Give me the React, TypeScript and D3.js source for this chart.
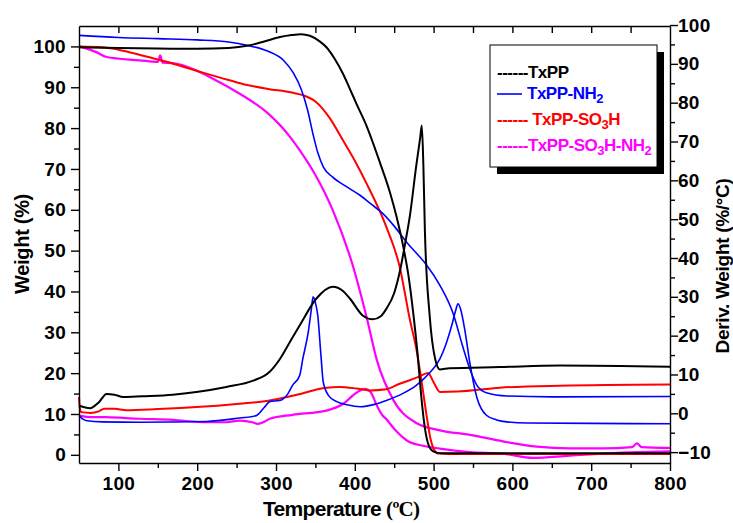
import * as d3 from "d3";
import React, { useEffect, useRef } from "react";

type Pt = [number, number];

// tick values
const tempTicks = [100, 200, 300, 400, 500, 600, 700, 800];
const tempMinor = [150, 250, 350, 450, 550, 650, 750];
const topTicks = [100, 150, 200, 250, 300, 350, 400, 450, 500, 550, 600, 650, 700, 750];
const weightTicks = [0, 10, 20, 30, 40, 50, 60, 70, 80, 90, 100];
const weightMinor = [5, 15, 25, 35, 45, 55, 65, 75, 85, 95];
const derivTicks = [-10, 0, 10, 20, 30, 40, 50, 60, 70, 80, 90, 100];
const derivMinor = [-5, 5, 15, 25, 35, 45, 55, 65, 75, 85, 95];

// TG curves: [temperature, weight %]
const txppWeight: Pt[] = [
  [50, 99.8], [100, 99.6], [150, 99.5], [200, 99.4], [240, 99.6], [265, 100.2],
  [285, 101.2], [305, 102.3], [320, 102.8], [332, 103], [343, 102.6], [355, 101.3],
  [364, 99.8], [375, 96.8], [385, 93.3], [394, 89.5], [402, 86], [415, 80.5],
  [432, 71.5], [445, 64], [453, 58.3], [462, 50.5], [468, 44], [474, 35],
  [480, 24], [484, 15], [489, 6.5], [494, 2.2], [500, 0.8], [510, 0.4],
  [600, 0.4], [700, 0.4], [800, 0.4],
];
const nh2Weight: Pt[] = [
  [50, 102.7], [100, 102.2], [150, 101.9], [200, 101.6], [240, 101.1], [265, 100.2],
  [290, 98.8], [310, 96.5], [322, 93.5], [332, 89.5], [340, 84.5], [347, 78.5],
  [353, 74], [360, 70.5], [372, 68], [390, 65.6], [407, 63.5], [420, 61.5],
  [436, 59], [450, 56], [466, 52], [480, 49], [491, 46.5], [508, 41.5],
  [525, 34.5], [537, 26.5], [546, 21], [555, 17], [567, 15.2], [593, 14.4],
  [650, 14.2], [800, 14.3],
];
const so3hWeight: Pt[] = [
  [50, 100], [80, 99.8], [100, 99.2], [130, 97.8], [160, 96.3], [200, 94],
  [230, 92.3], [260, 90.7], [290, 89.6], [320, 88.7], [335, 88], [350, 86.5],
  [368, 82.5], [385, 77], [400, 72], [415, 66.4], [440, 55.8], [457, 46],
  [470, 33], [478, 26], [484, 19], [490, 11], [496, 4], [500, 1.5],
  [506, 0.3], [520, 0.2], [800, 0.2],
];
const so3hNh2Weight: Pt[] = [
  [50, 100], [72, 98.6], [85, 97.4], [127, 96.6], [150, 96.2], [153, 97.8],
  [156, 96], [169, 95.9], [199, 94.1], [220, 92.1], [254, 88.4], [288, 83.9],
  [318, 77.8], [330, 74.6], [350, 68.5], [372, 59.9], [398, 46], [415, 33.7],
  [428, 23.2], [449, 13.4], [478, 7.8], [508, 6], [546, 4.9], [588, 3.3],
  [631, 2], [673, 1.6], [715, 1.6], [752, 1.9], [758, 2.8], [764, 1.9], [800, 1.7],
];

// DTG curves: [temperature, deriv. weight %/°C]
const txppDeriv: Pt[] = [
  [50, 2], [64, 1.3], [75, 2.8], [85, 5], [95, 4.8], [106, 4.2], [130, 4.4],
  [169, 4.8], [199, 5.5], [237, 6.8], [271, 8.4], [292, 10.7], [305, 14],
  [318, 18.5], [330, 22.6], [351, 29.5], [372, 32.6], [385, 31.5], [394, 29.5],
  [410, 25.2], [423, 24.2], [433, 25], [440, 26.9], [450, 31], [457, 36.4],
  [465, 45], [470, 51], [478, 63.8], [483, 71], [485, 74.1], [487, 64],
  [489, 46.7], [495, 25.2], [502, 14], [508, 11.3], [520, 11.6], [584, 11.9],
  [660, 12.3], [800, 12],
];
const nh2Deriv: Pt[] = [
  [50, -0.6], [55, -1.5], [60, -1.9], [80, -2.2], [127, -2.3], [212, -2.1],
  [254, -1.2], [275, -0.6], [285, 1.5], [292, 3], [305, 3.3], [315, 5],
  [321, 7.2], [330, 9.7], [334, 14], [341, 21], [345, 27], [347, 30],
  [350, 28.5], [353, 25.2], [357, 15], [360, 8], [367, 4.5], [377, 3],
  [390, 2.2], [407, 1.7], [425, 2.3], [440, 3.3], [460, 5], [478, 7.2],
  [493, 10], [508, 14], [516, 18], [523, 22.6], [528, 26.5], [531, 28.2],
  [534, 27], [540, 21], [546, 13], [555, 4], [567, -0.5], [580, -1.7],
  [593, -2.2], [620, -2.5], [700, -2.6], [800, -2.7],
];
const so3hDeriv: Pt[] = [
  [50, 4.2], [51, 1.5], [53, 0.3], [65, 0.1], [75, 0.5], [82, 1.2], [95, 1.2],
  [110, 0.8], [150, 1.1], [199, 1.6], [250, 2.4], [292, 3.3], [321, 4.5],
  [364, 6.6], [380, 6.8], [402, 6.4], [419, 5.9], [440, 6.2], [457, 7.6],
  [480, 9.3], [493, 10.4], [500, 8], [508, 5.5], [530, 5.6], [584, 6.6],
  [660, 7.1], [800, 7.4],
];
const so3hNh2Deriv: Pt[] = [
  [50, -0.6], [60, -0.9], [85, -1], [127, -1.4], [169, -1.7], [212, -2.3],
  [237, -2.3], [254, -1.9], [270, -2.3], [277, -2.7], [285, -2.2], [292, -1.4],
  [321, -0.4], [364, 0.7], [385, 2.4], [402, 5.3], [413, 6.3], [420, 5.5],
  [428, 2], [435, -0.5], [440, -1.5], [450, -4], [466, -7], [485, -8.3],
  [508, -9.1], [546, -10], [588, -10.4], [626, -11.5], [673, -10.9],
  [715, -10.4], [758, -10], [800, -9.8],
];

const seriesNames = ["TxPP", "TxPP-NH2", "TxPP-SO3H", "TxPP-SO3H-NH2"];
const seriesColors = ["#000000", "#0000ff", "#ff0000", "#ff00ff"];

const FONT = "'Liberation Sans', Arial, sans-serif";

const App: React.FC = () => {
  const svgRef = useRef<SVGSVGElement | null>(null);

  useEffect(() => {
    const svg = d3.select(svgRef.current);
    svg.selectAll("*").remove();

    const x = d3.scaleLinear().domain([50, 800]).range([79, 670]);
    const yW = d3.scaleLinear().domain([-2, 105]).range([463, 26]);
    const yD = d3.scaleLinear().domain([-12.8, 99.75]).range([463, 26]);

    // curves
    const lineW = d3
      .line<Pt>()
      .x((d) => x(d[0]))
      .y((d) => yW(d[1]))
      .curve(d3.curveMonotoneX);
    const lineD = d3
      .line<Pt>()
      .x((d) => x(d[0]))
      .y((d) => yD(d[1]))
      .curve(d3.curveMonotoneX);

    const curves: { data: Pt[]; deriv: boolean; color: string; w: number }[] = [
      { data: so3hNh2Deriv, deriv: true, color: seriesColors[3], w: 2.2 },
      { data: so3hNh2Weight, deriv: false, color: seriesColors[3], w: 2.2 },
      { data: so3hDeriv, deriv: true, color: seriesColors[2], w: 2 },
      { data: so3hWeight, deriv: false, color: seriesColors[2], w: 2 },
      { data: nh2Deriv, deriv: true, color: seriesColors[1], w: 1.6 },
      { data: nh2Weight, deriv: false, color: seriesColors[1], w: 1.6 },
      { data: txppDeriv, deriv: true, color: seriesColors[0], w: 2 },
      { data: txppWeight, deriv: false, color: seriesColors[0], w: 2 },
    ];

    svg
      .append("g")
      .selectAll("path")
      .data(curves)
      .join("path")
      .attr("d", (c) => (c.deriv ? lineD(c.data) : lineW(c.data)))
      .attr("fill", "none")
      .attr("stroke", (c) => c.color)
      .attr("stroke-width", (c) => c.w)
      .attr("stroke-linejoin", "round");

    // axes
    const styleAxis = (g: d3.Selection<SVGGElement, unknown, null, undefined>) => {
      g.attr("font-family", FONT)
        .attr("font-size", 19)
        .attr("font-weight", "bold")
        .attr("letter-spacing", "0.3");
      g.selectAll("path").attr("stroke", "#000").attr("stroke-width", 1.4);
      g.selectAll("line").attr("stroke", "#000").attr("stroke-width", 1.4);
      g.selectAll("text").attr("fill", "#000");
    };

    svg
      .append("g")
      .attr("transform", "translate(79,0)")
      .call(d3.axisLeft(yW).tickValues(weightTicks).tickSize(8).tickSizeOuter(0).tickPadding(5).tickFormat(d3.format("d")))
      .call(styleAxis);
    svg
      .append("g")
      .attr("transform", "translate(79,0)")
      .call(d3.axisLeft(yW).tickValues(weightMinor).tickSize(5).tickFormat(() => ""))
      .call((g) => g.select(".domain").remove())
      .call(styleAxis);

    svg
      .append("g")
      .attr("transform", "translate(670,0)")
      .call(d3.axisRight(yD).tickValues(derivTicks).tickSize(8).tickSizeOuter(0).tickPadding(0).tickFormat(d3.format("d")))
      .call(styleAxis);
    svg
      .append("g")
      .attr("transform", "translate(670,0)")
      .call(d3.axisRight(yD).tickValues(derivMinor).tickSize(5).tickFormat(() => ""))
      .call((g) => g.select(".domain").remove())
      .call(styleAxis);

    svg
      .append("g")
      .attr("transform", "translate(0,463)")
      .call(d3.axisBottom(x).tickValues(tempTicks).tickSize(8).tickSizeOuter(0).tickPadding(6).tickFormat(d3.format("d")))
      .call(styleAxis);
    svg
      .append("g")
      .attr("transform", "translate(0,463)")
      .call(d3.axisBottom(x).tickValues(tempMinor).tickSize(5).tickFormat(() => ""))
      .call((g) => g.select(".domain").remove())
      .call(styleAxis);

    svg
      .append("g")
      .attr("transform", "translate(0,26)")
      .call(d3.axisTop(x).tickValues(topTicks).tickSize(-7).tickSizeOuter(0).tickFormat(() => ""))
      .call(styleAxis);

    // axis titles
    svg
      .append("text")
      .attr("transform", "translate(29,244) rotate(-90)")
      .attr("text-anchor", "middle")
      .attr("font-family", FONT)
      .attr("font-weight", "bold")
      .attr("font-size", 20)
      .attr("letter-spacing", "-0.3")
      .text("Weight (%)");

    svg
      .append("text")
      .attr("transform", "translate(729,266) rotate(-90)")
      .attr("text-anchor", "middle")
      .attr("font-family", FONT)
      .attr("font-weight", "bold")
      .attr("font-size", 19)
      .attr("letter-spacing", "-0.3")
      .text("Deriv. Weight (%/°C)");

    const xt = svg
      .append("text")
      .attr("x", 263)
      .attr("y", 516)
      .attr("font-family", FONT)
      .attr("font-weight", "bold")
      .attr("font-size", 21)
      .attr("letter-spacing", "-0.7");
    xt.append("tspan").text("Temperature ");
    xt.append("tspan").attr("font-family", "'Liberation Serif', 'Times New Roman', serif").text("(ºC)");

    // legend
    const lg = svg.append("g");
    lg.append("rect").attr("x", 497).attr("y", 52).attr("width", 167).attr("height", 122).attr("fill", "#000");
    lg.append("rect")
      .attr("x", 490)
      .attr("y", 45)
      .attr("width", 167)
      .attr("height", 122)
      .attr("fill", "#fff")
      .attr("stroke", "#000")
      .attr("stroke-width", 1);

    const rowY = [78, 99, 125, 151];
    const prefixes = ["------", "", "------ ", "------"];
    seriesNames.forEach((name, i) => {
      const t = lg
        .append("text")
        .attr("x", 497)
        .attr("y", rowY[i])
        .attr("font-family", FONT)
        .attr("font-weight", "bold")
        .attr("font-size", 17)
        .attr("letter-spacing", "-0.5")
        .attr("fill", seriesColors[i]);
      if (i === 1) {
        lg.append("line")
          .attr("x1", 497)
          .attr("x2", 522)
          .attr("y1", rowY[i] - 5)
          .attr("y2", rowY[i] - 5)
          .attr("stroke", seriesColors[i])
          .attr("stroke-width", 1.6);
        t.attr("x", 527);
      }
      if (prefixes[i]) t.append("tspan").text(prefixes[i]);
      // digits become subscripts
      const parts = name.split(/(\d)/).filter((p) => p !== "");
      let sub = false;
      parts.forEach((p) => {
        const isDigit = /^\d$/.test(p);
        const ts = t.append("tspan").text(p);
        if (isDigit && !sub) {
          ts.attr("dy", 4).attr("font-size", 13);
          sub = true;
        } else if (!isDigit && sub) {
          ts.attr("dy", -4);
          sub = false;
        }
      });
    });
  }, []);

  return (
    <svg
      ref={svgRef}
      width={733}
      height={523}
      style={{ position: "absolute", left: 0, top: 0, background: "#fff" }}
    />
  );
};

export default App;
